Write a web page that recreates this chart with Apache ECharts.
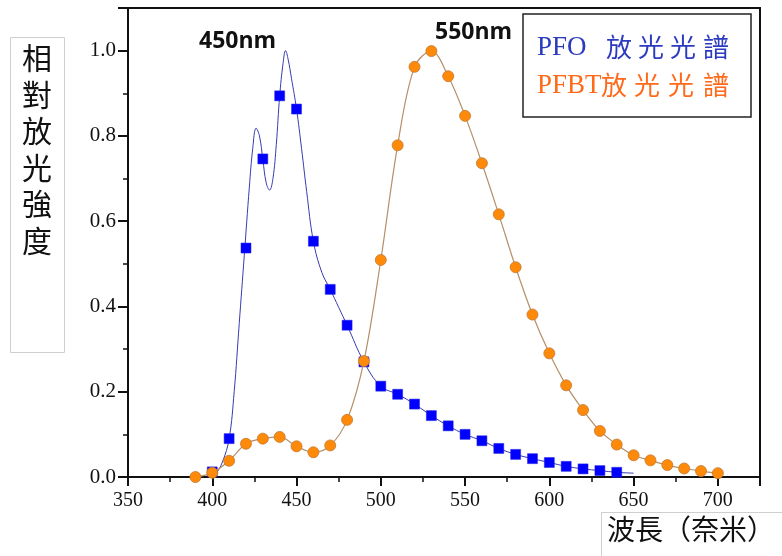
<!DOCTYPE html>
<html>
<head>
    <meta charset="utf-8">
    <script src="https://cdn.jsdelivr.net/npm/echarts@6/dist/echarts.min.js"></script>
    <style>
        html, body { margin: 0; padding: 0; background: #fff; }
        #main { width: 782px; height: 556px; }
    </style>
</head>
<body>
<div id="main"></div>
<script type="text/javascript">
    // PFO 光譜 (方塊點)
    var pfoWl = [400, 410, 420, 430, 440, 450, 460, 470, 480, 490, 500, 510, 520, 530, 540, 550, 560, 570, 580, 590, 600, 610, 620, 630, 640];
    var pfoVals = [0.012, 0.09, 0.537, 0.746, 0.894, 0.863, 0.553, 0.44, 0.356, 0.27, 0.213, 0.194, 0.171, 0.144, 0.12, 0.1, 0.085, 0.067, 0.053, 0.043, 0.034, 0.025, 0.019, 0.015, 0.011];
    // PFO 擬合曲線
    var pfoCurveWl = [398, 402, 406, 410, 413, 416, 419, 422, 424, 426, 428, 430, 432, 434, 436, 438, 440, 442, 443.5, 445, 447, 450, 453, 456, 460, 465, 470, 475, 480, 490, 500, 510, 520, 530, 540, 550, 560, 570, 580, 590, 600, 610, 620, 630, 640, 650];
    var pfoCurveVals = [0.0, 0.008, 0.035, 0.09, 0.2, 0.36, 0.52, 0.68, 0.77, 0.818, 0.80, 0.745, 0.69, 0.673, 0.70, 0.78, 0.894, 0.97, 1.0, 0.98, 0.935, 0.863, 0.77, 0.67, 0.553, 0.48, 0.44, 0.398, 0.356, 0.27, 0.213, 0.194, 0.171, 0.144, 0.12, 0.1, 0.085, 0.067, 0.053, 0.043, 0.034, 0.025, 0.019, 0.015, 0.011, 0.009];
    // PFBT 光譜 (圓點)
    var pfbtWl = [390, 400, 410, 420, 430, 440, 450, 460, 470, 480, 490, 500, 510, 520, 530, 540, 550, 560, 570, 580, 590, 600, 610, 620, 630, 640, 650, 660, 670, 680, 690, 700];
    var pfbtVals = [0.0, 0.01, 0.038, 0.078, 0.09, 0.094, 0.072, 0.058, 0.074, 0.134, 0.272, 0.509, 0.778, 0.962, 0.999, 0.94, 0.847, 0.736, 0.616, 0.492, 0.381, 0.29, 0.215, 0.157, 0.108, 0.076, 0.051, 0.039, 0.028, 0.02, 0.014, 0.009];

    function pairs(xs, ys) {
        var out = [];
        for (var i = 0; i < xs.length; i++) out.push([xs[i], ys[i]]);
        return out;
    }

    var serif = '"Liberation Serif", "DejaVu Serif", serif';
    var cjk = '"Liberation Serif", "Noto Sans CJK TC", serif';

    // 圖例文字: 中文字逐字排開, 字距較寬
    function legendLine(prefix, x0, xs, top, color) {
        var items = [{ type: 'text', left: x0, top: top, z: 11, style: { text: prefix, font: '27px ' + serif, fill: color } }];
        var chars = ['放', '光', '光', '譜'];
        for (var i = 0; i < chars.length; i++) {
            items.push({ type: 'text', left: xs[i], top: top, z: 11, style: { text: chars[i], font: '26px "Noto Sans CJK TC", sans-serif', fill: color } });
        }
        return items;
    }

    var myChart = echarts.init(document.getElementById('main'));
    var graphics = [
        // 峰值標示
        { type: 'text', left: 199, top: 30, style: { text: '450nm', font: 'bold 23px "Open Sans", sans-serif', fill: '#111' } },
        { type: 'text', left: 435, top: 21, style: { text: '550nm', font: 'bold 23px "Open Sans", sans-serif', fill: '#111' } },
        // 圖例框
        { type: 'rect', shape: { x: 523, y: 14, width: 228, height: 103 }, style: { fill: '#fff', stroke: '#222', lineWidth: 1.5 }, z: 10 },
        // Y 軸標題框
        { type: 'rect', shape: { x: 10.5, y: 37.5, width: 54, height: 315 }, style: { fill: '#fff', stroke: '#cfcfcf', lineWidth: 1 }, z: 10 },
        { type: 'text', left: 22, top: 43, z: 11, style: { text: '相\n對\n放\n光\n強\n度', font: '30px ' + cjk, fill: '#111', lineHeight: 36.5 } },
        // X 軸標題框
        { type: 'rect', shape: { x: 601.5, y: 512.5, width: 190, height: 50 }, style: { fill: '#fff', stroke: '#cfcfcf', lineWidth: 1 }, z: 10 },
        { type: 'text', left: 607, top: 519, z: 11, style: { text: '波長（奈米）', font: '28px ' + cjk, fill: '#111' } }
    ];
    graphics = graphics.concat(legendLine('PFO', 537, [606, 638, 670, 703], 34, '#2b3bbf'));
    graphics = graphics.concat(legendLine('PFBT', 537, [601, 634, 668, 703], 72, '#ff6a1a'));

    var option = {
        backgroundColor: '#fff',
        animation: false,
        grid: {
            left: 128, right: 22, top: 8, bottom: 79,
            show: true, borderColor: '#111', borderWidth: 2
        },
        xAxis: {
            type: 'value', min: 350, max: 725, interval: 50,
            axisLine: { show: true, lineStyle: { color: '#111', width: 2 } },
            axisTick: { show: true, length: 9, lineStyle: { color: '#111', width: 2 } },
            minorTick: { show: true, splitNumber: 2, length: 5, lineStyle: { color: '#111', width: 1.5 } },
            splitLine: { show: false },
            axisLabel: {
                margin: 14, color: '#111', fontSize: 20, fontFamily: serif,
                formatter: function (v) { return v > 700 ? '' : v; }
            }
        },
        yAxis: {
            type: 'value', min: 0, max: 1.1, interval: 0.2,
            axisLine: { show: true, lineStyle: { color: '#111', width: 2 } },
            axisTick: { show: true, length: 10, lineStyle: { color: '#111', width: 2 } },
            minorTick: { show: true, splitNumber: 2, length: 5, lineStyle: { color: '#111', width: 1.5 } },
            splitLine: { show: false },
            axisLabel: {
                margin: 12, color: '#111', fontSize: 21, fontFamily: serif,
                formatter: function (v) { return v > 1.05 ? '' : v.toFixed(1); }
            }
        },
        series: [{
            type: 'line',
            data: pairs(pfoCurveWl, pfoCurveVals),
            smooth: 0.4,
            showSymbol: false,
            lineStyle: { color: '#3a3ab0', width: 1 },
            z: 2
        }, {
            type: 'scatter',
            data: pairs(pfoWl, pfoVals),
            symbol: 'rect',
            symbolSize: 10,
            itemStyle: { color: '#0000ff', borderColor: '#2020e0', borderWidth: 0.5, opacity: 1 },
            z: 3
        }, {
            type: 'line',
            data: pairs(pfbtWl, pfbtVals),
            smooth: 0.35,
            symbol: 'circle',
            symbolSize: 11,
            lineStyle: { color: '#b58f68', width: 1.2 },
            itemStyle: { color: '#ff8a0a', borderColor: '#c07830', borderWidth: 0.8 },
            z: 4
        }],
        graphic: graphics
    };
    myChart.setOption(option);
</script>
</body>
</html>
